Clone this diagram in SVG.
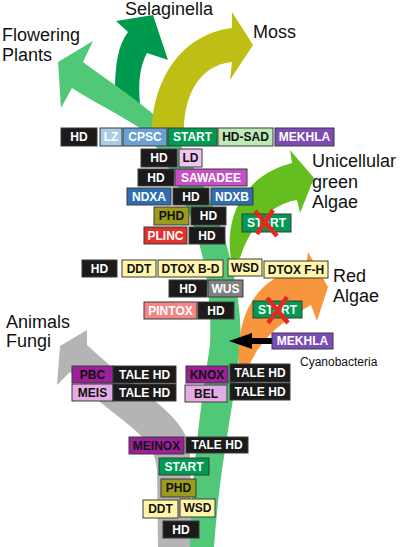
<svg xmlns="http://www.w3.org/2000/svg" width="400" height="547" viewBox="0 0 400 547">
<style>
.b{stroke:#3a3a3a;stroke-width:1}
.t{font-family:"Liberation Sans",Arial,sans-serif;font-weight:bold;font-size:12px;text-anchor:middle}
.w{fill:#ffffff}.k{fill:#111111}
.blk{fill:#1c1a1b}.lz{fill:#aacce4}.cp{fill:#6ba0d2}.st{fill:#009a52}.sad{fill:#bfe9b7}.mk{fill:#7b4cb6}
.ld{fill:#eec6ee}.sw{fill:#c451c2}.nd{fill:#2f6db3}.ph{fill:#9d9b1d}.pl{fill:#e3322b}.yl{fill:#fff6a8}
.gr{fill:#808080}.pt{fill:#f28686}.pu{fill:#9c2097}.pk{fill:#e4abe4}
.lab{font-family:"Liberation Sans",Arial,sans-serif;font-size:18px;fill:#111111}
.x{stroke:#e8261e;stroke-width:4.5;stroke-linecap:butt}
</style>
<g id="connectors">
<path id="selaginella-branch" fill="#009a4e" d="M115,92 C115,65 118,45 128,32 L116,21 L153,15 L168,60 L147,53 C140,66 138,82 140,104 Z"/>
<path id="gray-branch" fill="#b4b4b4" d="M192,547 L190,455 C190,415 140,395 87,345 L87,330 L60,346 L57,385 L70,372 C110,420 155,430 157,470 L158,547 Z"/>
<path id="main-stem" fill="#50c878" d="M58,62 L93,41 L83,62 C110,82 145,105 168,127 C185,150 215,200 228,250 C238,290 242,320 240,345 C237,390 220,460 214,547 L190,547 C192,470 200,410 210,345 C212,300 205,262 198,240 C188,205 165,150 140,128 C115,112 90,100 72,88 L61,108 Z"/>
<path id="moss-branch" fill="#bebe14" d="M152,138 C150,90 175,35 232,28 L232,12 L253,45 L230,80 L232,62 C200,65 182,95 184,138 Z"/>
<path id="green-algae-branch" fill="#64be1e" d="M231,260 C224,215 245,175 292,163 L290,150 L314,178 L300,213 L297,200 C272,204 250,225 240,258 Z"/>
<path id="red-algae-branch" fill="#f7963c" d="M239,366 C236,322 250,278 306,266 L308,252 L328,287 L317,321 L311,305 C288,318 262,335 249,366 Z"/>
<path id="mekhla-arrow" fill="#000000" d="M272,338 L252,338 L252,333 L229,341 L252,349 L252,344 L272,344 Z"/>
</g>
<g id="labels">
<text class="lab" x="2" y="41">Flowering</text>
<text class="lab" x="2" y="61">Plants</text>
<text class="lab" x="125" y="15">Selaginella</text>
<text class="lab" x="253" y="38">Moss</text>
<text class="lab" x="312" y="167">Unicellular</text>
<text class="lab" x="312" y="188">green</text>
<text class="lab" x="312" y="208">Algae</text>
<text class="lab" x="333" y="282">Red</text>
<text class="lab" x="333" y="302">Algae</text>
<text class="lab" x="6" y="328">Animals</text>
<text class="lab" x="6" y="347">Fungi</text>
<text x="300" y="366" style="font-family:'Liberation Sans',Arial,sans-serif;font-size:12px;fill:#111">Cyanobacteria</text>
</g>
<g id="n1-hd"><rect class="b blk" x="61" y="128" width="36" height="18"/><text class="t w" x="79" y="141.3">HD</text></g>
<g id="n1-lz"><rect class="b lz" x="100" y="128" width="22" height="18"/><text class="t w" x="111" y="141.3">LZ</text></g>
<g id="n1-cpsc"><rect class="b cp" x="123" y="128" width="44" height="18"/><text class="t w" x="145" y="141.3">CPSC</text></g>
<g id="n1-start"><rect class="b st" x="168" y="128" width="49" height="18"/><text class="t w" x="192.5" y="141.3">START</text></g>
<g id="n1-hdsad"><rect class="b sad" x="218" y="128" width="55" height="18"/><text class="t k" x="245.5" y="141.3">HD-SAD</text></g>
<g id="n1-mekhla"><rect class="b mk" x="275" y="128" width="59" height="18"/><text class="t w" x="304.5" y="141.3">MEKHLA</text></g>
<g id="n2-hd"><rect class="b blk" x="141" y="149" width="36" height="18"/><text class="t w" x="159" y="162.3">HD</text></g>
<g id="n2-ld"><rect class="b ld" x="179" y="149" width="23" height="18"/><text class="t k" x="190.5" y="162.3">LD</text></g>
<g id="n3-hd"><rect class="b blk" x="138" y="169" width="36" height="17"/><text class="t w" x="156" y="181.8">HD</text></g>
<g id="n3-sawadee"><rect class="b sw" x="175" y="169" width="72" height="17"/><text class="t w" x="211" y="181.8">SAWADEE</text></g>
<g id="n4-ndxa"><rect class="b nd" x="127" y="188" width="44" height="17"/><text class="t w" x="149" y="200.8">NDXA</text></g>
<g id="n4-hd"><rect class="b blk" x="173" y="188" width="36" height="17"/><text class="t w" x="191" y="200.8">HD</text></g>
<g id="n4-ndxb"><rect class="b nd" x="211" y="188" width="42" height="17"/><text class="t w" x="232" y="200.8">NDXB</text></g>
<g id="n5-phd"><rect class="b ph" x="154" y="207" width="35" height="18"/><text class="t k" x="171.5" y="220.3">PHD</text></g>
<g id="n5-hd"><rect class="b blk" x="191" y="207" width="35" height="18"/><text class="t w" x="208.5" y="220.3">HD</text></g>
<g id="n5-start-lost"><rect class="b st" x="242" y="214" width="49" height="18"/><text class="t w" x="266.5" y="227.3">START</text><line class="x" x1="255" y1="211" x2="277" y2="236"/><line class="x" x1="273" y1="210" x2="257" y2="234"/></g>
<g id="n6-plinc"><rect class="b pl" x="144" y="227" width="43" height="17"/><text class="t w" x="165.5" y="239.8">PLINC</text></g>
<g id="n6-hd"><rect class="b blk" x="189" y="227" width="36" height="17"/><text class="t w" x="207" y="239.8">HD</text></g>
<g id="n7-hd"><rect class="b blk" x="82" y="260" width="35" height="17"/><text class="t w" x="99.5" y="272.8">HD</text></g>
<g id="n7-ddt"><rect class="b yl" x="122" y="260" width="34" height="17"/><text class="t k" x="139" y="272.8">DDT</text></g>
<g id="n7-dtoxbd"><rect class="b yl" x="158" y="260" width="65" height="17"/><text class="t k" x="190.5" y="272.8">DTOX B-D</text></g>
<g id="n7-wsd"><rect class="b yl" x="228" y="259" width="34" height="17"/><text class="t k" x="245" y="271.8">WSD</text></g>
<g id="n7-dtoxfh"><rect class="b yl" x="264" y="261" width="64" height="17"/><text class="t k" x="296" y="273.8">DTOX F-H</text></g>
<g id="n8-hd"><rect class="b blk" x="169" y="280" width="38" height="17"/><text class="t w" x="188" y="292.8">HD</text></g>
<g id="n8-wus"><rect class="b gr" x="208" y="280" width="35" height="17"/><text class="t w" x="225.5" y="292.8">WUS</text></g>
<g id="n9-pintox"><rect class="b pt" x="144" y="302" width="53" height="17"/><text class="t w" x="170.5" y="314.8">PINTOX</text></g>
<g id="n9-hd"><rect class="b blk" x="198" y="302" width="36" height="17"/><text class="t w" x="216" y="314.8">HD</text></g>
<g id="n9-start-lost"><rect class="b st" x="253" y="301" width="49" height="17"/><text class="t w" x="277.5" y="313.8">START</text><line class="x" x1="267" y1="298" x2="288" y2="323"/><line class="x" x1="287" y1="297" x2="268" y2="323"/></g>
<g id="cyano-mekhla"><rect class="b mk" x="272" y="333" width="61" height="16"/><text class="t w" x="302.5" y="345.3">MEKHLA</text></g>
<g id="n10-pbc"><rect class="b pu" x="72" y="366" width="41" height="17"/><text class="t k" x="92.5" y="378.8">PBC</text></g>
<g id="n10-talehd"><rect class="b blk" x="113" y="366" width="63" height="17"/><text class="t w" x="144.5" y="378.8">TALE HD</text></g>
<g id="n10-knox"><rect class="b pu" x="186" y="366" width="42" height="17"/><text class="t k" x="207" y="378.8">KNOX</text></g>
<g id="n10-talehd2"><rect class="b blk" x="230" y="364" width="60" height="18"/><text class="t w" x="260" y="377.3">TALE HD</text></g>
<g id="n11-meis"><rect class="b pk" x="72" y="384" width="41" height="17"/><text class="t k" x="92.5" y="396.8">MEIS</text></g>
<g id="n11-talehd"><rect class="b blk" x="113" y="384" width="63" height="17"/><text class="t w" x="144.5" y="396.8">TALE HD</text></g>
<g id="n11-bel"><rect class="b pk" x="185" y="385" width="42" height="17"/><text class="t k" x="206" y="397.8">BEL</text></g>
<g id="n11-talehd2"><rect class="b blk" x="230" y="383" width="60" height="17"/><text class="t w" x="260" y="395.8">TALE HD</text></g>
<g id="n12-meinox"><rect class="b pu" x="129" y="437" width="55" height="17"/><text class="t k" x="156.5" y="449.8">MEINOX</text></g>
<g id="n12-talehd"><rect class="b blk" x="186" y="437" width="62" height="16"/><text class="t w" x="217" y="449.3">TALE HD</text></g>
<g id="n13-start"><rect class="b st" x="159" y="458" width="50" height="17"/><text class="t w" x="184" y="470.8">START</text></g>
<g id="n14-phd"><rect class="b ph" x="161" y="479" width="35" height="18"/><text class="t k" x="178.5" y="492.3">PHD</text></g>
<g id="n15-ddt"><rect class="b yl" x="143" y="500" width="35" height="18"/><text class="t k" x="160.5" y="513.3">DDT</text></g>
<g id="n15-wsd"><rect class="b yl" x="180" y="499" width="35" height="18"/><text class="t k" x="197.5" y="512.3">WSD</text></g>
<g id="n16-hd"><rect class="b blk" x="163" y="521" width="36" height="17"/><text class="t w" x="181" y="533.8">HD</text></g>
</svg>
